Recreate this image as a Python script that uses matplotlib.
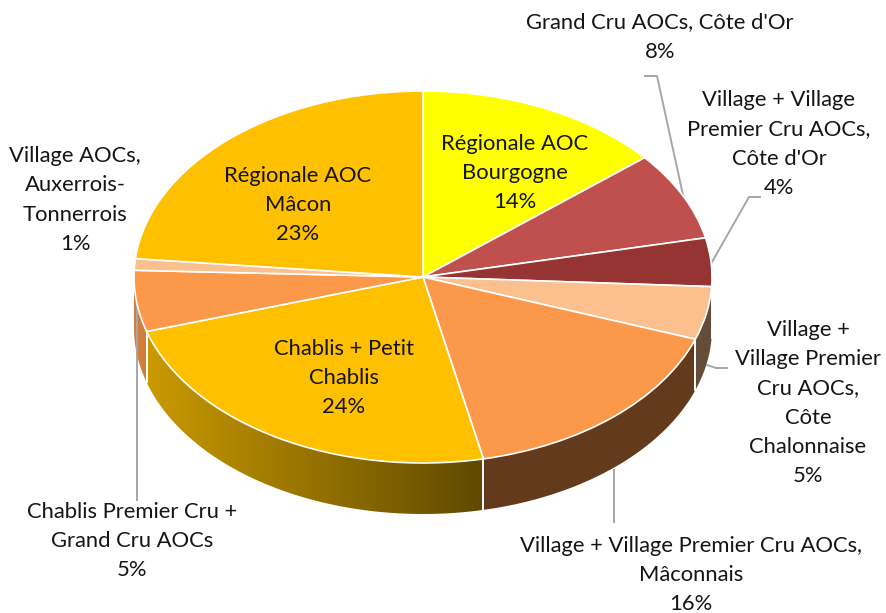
#!/usr/bin/env python3
import numpy as np
import matplotlib
matplotlib.use('Agg')
import matplotlib.pyplot as plt
from matplotlib.patches import Polygon
from matplotlib.colors import LinearSegmentedColormap

plt.rcParams['font.family'] = ['Lato', 'DejaVu Sans']

# slices, clockwise from the top
names = [
    'Régionale AOC\nBourgogne',
    "Grand Cru AOCs, Côte d'Or",
    "Village + Village\nPremier Cru AOCs,\nCôte d'Or",
    'Village +\nVillage Premier\nCru AOCs,\nCôte\nChalonnaise',
    'Village + Village Premier Cru AOCs,\nMâconnais',
    'Chablis + Petit\nChablis',
    'Chablis Premier Cru +\nGrand Cru AOCs',
    'Village AOCs,\nAuxerrois-\nTonnerrois',
    'Régionale AOC\nMâcon',
]
values = [13.9, 7.7, 4.2, 4.6, 16.2, 23.6, 5.3, 1.0, 23.4]
top_colors = ['#FFFF00', '#C0504D', '#953433', '#FBC08E', '#FB9849',
              '#FFC000', '#FB9849', '#FBC08E', '#FFC000']
wall_colors = ['#808000', '#60282A', '#4A1A1A', '#634C38', '#633A1C',
               None, '#CF7F3B', '#634C38', '#806000']

# label centres in pixels of the picture
label_pos = [(515, 173), (660, 37), (779, 144), (808, 403), (691, 575),
             (344, 378), (132, 541), (75, 200), (298, 205)]

W, H = 887, 613
CX, CY, RX, RY, DEPTH = 423, 277, 289, 186, 51


def px(x, y):
    # picture pixels -> data coordinates of the squashed unit circle
    return (x - CX) / RX, (CY - y) / RY


fig = plt.figure(figsize=(W / 100, H / 100), dpi=100)
ax = fig.add_axes([0, 0, 1, 1])

# side wall first, only the front half can be seen
fractions = np.array(values) / sum(values)
edges = np.concatenate([[0], np.cumsum(fractions)]) * 2 * np.pi
d = DEPTH / RY
for i in range(len(values)):
    a0, a1 = max(edges[i], np.pi / 2), min(edges[i + 1], 3 * np.pi / 2)
    if a1 <= a0:
        continue
    t = np.linspace(a0, a1, 80)
    x, y = np.sin(t), np.cos(t)
    pts = np.vstack([np.column_stack([x, y]),
                     np.column_stack([x[::-1], y[::-1] - d])])
    if wall_colors[i] is None:
        # the big Chablis wall fades from gold to dark
        poly = Polygon(pts, closed=True, facecolor='none', edgecolor='none',
                       transform=ax.transData)
        ax.add_patch(poly)
        cmap = LinearSegmentedColormap.from_list('wall', ['#CA9A00', '#5F4900'])
        im = ax.imshow(np.linspace(0, 1, 256).reshape(1, -1), cmap=cmap,
                       extent=[x.min(), x.max(), y.min() - d, y.max()],
                       zorder=1)
        im.set_clip_path(poly)
    else:
        ax.add_patch(Polygon(pts, closed=True, facecolor=wall_colors[i],
                             edgecolor='none', zorder=1))
    # white seam between wall pieces
    for a in (a0, a1):
        if np.pi / 2 < a < 3 * np.pi / 2:
            ax.plot([np.sin(a)] * 2, [np.cos(a), np.cos(a) - d], color='white',
                    lw=1.2, zorder=1.5)

# leader lines
leaders = [
    [(645, 76), (657, 76), (683, 195)],
    [(760, 197), (749, 197), (712, 262)],
    [(727, 368), (716, 368), (707, 365)],
    [(614, 470), (614, 522)],
    [(137, 295), (137, 500)],
]
for line in leaders:
    xy = np.array([px(*p) for p in line])
    ax.plot(xy[:, 0], xy[:, 1], color='#A6A6A6', lw=1.4, zorder=2)

wedges, _ = ax.pie(values, startangle=90, counterclock=False, radius=1,
                   colors=top_colors,
                   wedgeprops={'edgecolor': 'white', 'linewidth': 1.2})
for w in wedges:
    w.set_zorder(3)

ax.set_aspect('auto')
ax.set_xlim(px(0, 0)[0], px(W, 0)[0])
ax.set_ylim(px(0, H)[1], px(0, 0)[1])
ax.axis('off')

for name, val, (lx, ly) in zip(names, values, label_pos):
    ax.text(*px(lx, ly), f'{name}\n{round(val)}%', ha='center', va='center',
            fontsize=15.8, color='#151515', linespacing=1.58, zorder=5)

fig.savefig('out.png', dpi=100)
